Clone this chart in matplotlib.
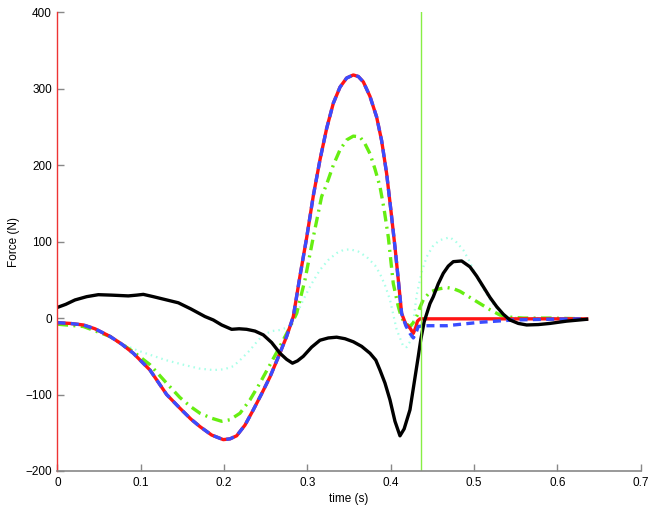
import matplotlib

matplotlib.use("Agg")
import matplotlib.pyplot as plt

plt.rcParams["font.family"] = ["Liberation Sans", "DejaVu Sans"]

# time (s) / force (N)
red_t = [0.000, 0.015, 0.031, 0.045, 0.063, 0.077, 0.091, 0.111, 0.131, 0.147, 0.160, 0.171, 0.185,
         0.199, 0.207, 0.215, 0.225, 0.235, 0.245, 0.255, 0.265, 0.275, 0.283, 0.291, 0.299, 0.307,
         0.315, 0.323, 0.331, 0.339, 0.347, 0.355, 0.361, 0.367, 0.375, 0.383, 0.389, 0.395, 0.400,
         0.405, 0.409, 0.413, 0.418, 0.423, 0.427, 0.430, 0.432, 0.435, 0.450, 0.500, 0.550, 0.600, 0.635]
red_f = [-6, -7, -9, -14, -24, -34, -46, -68, -100, -118, -132, -142, -153,
         -159, -158, -154, -140, -120, -99, -77, -51, -24, 2, 55, 105, 160,
         207, 248, 281, 302, 314, 318, 316, 309, 290, 263, 232, 189, 142,
         93, 50, 6, -8, -13, -20, -12, -4, -1, -1, -1, -1, -1, -1]

blue_t = [0.000, 0.015, 0.031, 0.045, 0.063, 0.077, 0.091, 0.111, 0.131, 0.147, 0.160, 0.171, 0.185,
          0.199, 0.207, 0.215, 0.225, 0.235, 0.245, 0.255, 0.265, 0.275, 0.283, 0.291, 0.299, 0.307,
          0.315, 0.323, 0.331, 0.339, 0.347, 0.355, 0.361, 0.367, 0.375, 0.383, 0.389, 0.395, 0.400,
          0.405, 0.409, 0.413, 0.418, 0.423, 0.427, 0.430, 0.433, 0.440, 0.467, 0.507, 0.547, 0.590, 0.635]
blue_f = [-6, -7, -9, -14, -24, -34, -46, -68, -100, -118, -132, -142, -153,
          -159, -158, -154, -140, -120, -99, -77, -51, -24, 2, 55, 105, 160,
          207, 248, 281, 302, 314, 318, 316, 309, 290, 263, 232, 189, 142,
          93, 50, 6, -10, -20, -26, -20, -11, -10, -10, -5.5, -2.5, -1.5, -1]

green_t = [0.000, 0.031, 0.063, 0.091, 0.111, 0.130, 0.147, 0.160, 0.171, 0.185, 0.197, 0.207, 0.219,
           0.231, 0.243, 0.255, 0.267, 0.277, 0.287, 0.297, 0.307, 0.317, 0.323, 0.331, 0.339, 0.347,
           0.355, 0.363, 0.369, 0.375, 0.381, 0.387, 0.392, 0.397, 0.403, 0.409, 0.413, 0.418, 0.423,
           0.427, 0.431, 0.435, 0.439, 0.447, 0.457, 0.467, 0.475, 0.483, 0.495, 0.507, 0.519, 0.531,
           0.545, 0.559, 0.590, 0.635]
green_f = [-8, -11, -24, -44, -61, -84, -104, -116, -124.5, -131, -135, -133, -124.5,
           -107, -85, -61, -37, -16, 6, 50, 106, 159, 175, 200, 220, 233,
           238, 237, 228, 215, 195, 172, 142, 106, 45, 15, 0, -7, -11,
           -6, 2, 14, 24, 34, 38, 40, 38.5, 35, 27, 19, 11, 4,
           1, 0, 0, -1]

cyan_t = [0.000, 0.031, 0.063, 0.080, 0.095, 0.111, 0.130, 0.151, 0.170, 0.187, 0.200, 0.211, 0.221,
          0.231, 0.240, 0.247, 0.257, 0.267, 0.279, 0.287, 0.295, 0.305, 0.315, 0.325, 0.335, 0.343,
          0.351, 0.361, 0.371, 0.381, 0.387, 0.393, 0.399, 0.407, 0.415, 0.419, 0.423, 0.427, 0.431,
          0.437, 0.443, 0.451, 0.459, 0.471, 0.479, 0.487, 0.495, 0.503, 0.511, 0.519, 0.527, 0.535,
          0.545, 0.555, 0.600, 0.635]
cyan_f = [-6, -9, -23, -35, -42, -48, -55, -61, -66, -68, -67, -63, -53,
          -42, -30, -22, -17, -15.6, -11, 5, 24, 45, 63, 76, 85, 89,
          90, 87, 80, 69, 58, 43, 24, -15, -37, -38, -31, -5, 30,
          60, 80, 95, 102, 105.7, 99, 89, 73, 54, 38, 24, 13, 4,
          1, 0, 0, -1]

black_t = [0.000, 0.010, 0.021, 0.035, 0.049, 0.065, 0.085, 0.095, 0.103, 0.115, 0.130, 0.145, 0.160,
           0.177, 0.187, 0.197, 0.209, 0.218, 0.227, 0.237, 0.247, 0.257, 0.267, 0.275, 0.282, 0.288,
           0.295, 0.305, 0.315, 0.325, 0.335, 0.345, 0.355, 0.365, 0.375, 0.382, 0.387, 0.393, 0.399,
           0.405, 0.411, 0.416, 0.423, 0.428, 0.433, 0.436, 0.440, 0.447, 0.451, 0.457, 0.463, 0.469,
           0.475, 0.485, 0.495, 0.503, 0.511, 0.519, 0.527, 0.535, 0.543, 0.553, 0.563, 0.577, 0.591,
           0.611, 0.635]
black_f = [14, 18, 23.7, 28, 30.6, 30, 29, 30, 31, 28, 24, 20, 12,
           2, -2.5, -9, -14.7, -14, -14.7, -17, -22, -32, -46, -54, -59, -56,
           -50, -38, -29, -26, -25, -27, -31, -37, -46, -55, -68, -85, -107,
           -135, -154, -145, -120, -85, -50, -28, -5, 19, 28, 45, 58.6, 68,
           73.8, 74.7, 67, 55, 41, 27, 15, 5, -2.5, -7, -9, -8.5, -7,
           -4, -1.6]

event_t = 0.436
x_ticks = [0, 0.1, 0.2, 0.3, 0.4, 0.5, 0.6, 0.7]
x_labels = ["0", "0.1", "0.2", "0.3", "0.4", "0.5", "0.6", "0.7"]
y_ticks = [-200, -100, 0, 100, 200, 300, 400]

fig = plt.figure(figsize=(6.54, 5.09), dpi=100)
ax = fig.add_axes([0.0879, 0.0747, 0.8919, 0.9012])

ax.plot(cyan_t, cyan_f, color="#a8ffe8", lw=1.6, dashes=(0.7, 1.8))
ax.plot(green_t, green_f, color="#66ee11", lw=2.4, dashes=(3.2, 1.6, 0.6, 1.6))
ax.plot(red_t, red_f, color="#ff1414", lw=2.4)
ax.plot(blue_t, blue_f, color="#3a4cff", lw=2.4, dashes=(2.4, 1.6))
ax.plot(black_t, black_f, color="black", lw=2.4)
ax.axvline(event_t, color="#88ee44", lw=1.0)

ax.set_xlim(0, 0.7)
ax.set_ylim(-200, 400)
ax.set_xticks(x_ticks)
ax.set_xticklabels(x_labels)
ax.set_yticks(y_ticks)
ax.tick_params(direction="in", length=5, width=1, color="#888888", labelsize=8.5, pad=4)

ax.spines["top"].set_visible(False)
ax.spines["right"].set_visible(False)
ax.spines["left"].set_color("#ee3333")
ax.spines["left"].set_linewidth(1.0)
ax.spines["bottom"].set_color("#888888")
ax.spines["bottom"].set_linewidth(1.2)

ax.set_xlabel("time (s)", fontsize=8.5, labelpad=3)
ax.set_ylabel("Force (N)", fontsize=8.5, labelpad=4)

plt.savefig("out.png", dpi=100)
plt.close()
